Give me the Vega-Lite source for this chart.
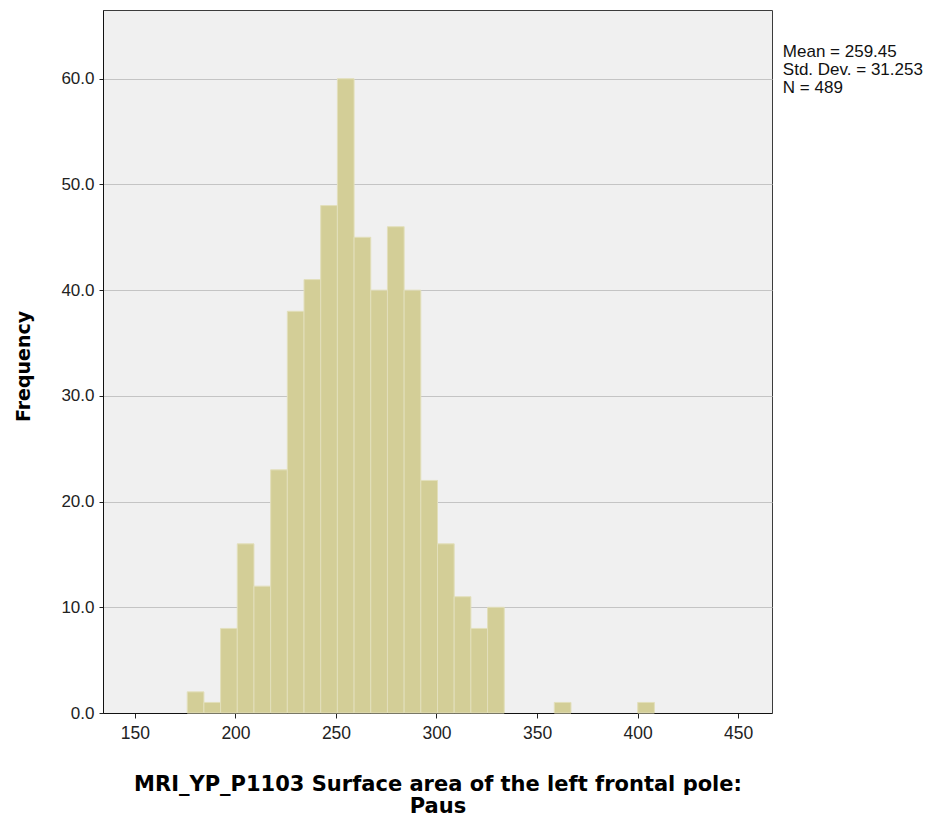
{
  "$schema": "https://vega.github.io/schema/vega-lite/v6.json",
  "width": 669,
  "height": 703,
  "autosize": "none",
  "padding": {"left": 103, "top": 10, "right": 166, "bottom": 108},
  "background": "white",
  "config": {
    "view": {"fill": "#f0f0f0", "stroke": "#3c3c3c", "strokeWidth": 1},
    "font": "Liberation Sans"
  },
  "datasets": {
    "bins": [
      {"bin_start": 176.0, "bin_end": 184.3, "count": 2},
      {"bin_start": 184.3, "bin_end": 192.6, "count": 1},
      {"bin_start": 192.6, "bin_end": 200.9, "count": 8},
      {"bin_start": 200.9, "bin_end": 209.2, "count": 16},
      {"bin_start": 209.2, "bin_end": 217.5, "count": 12},
      {"bin_start": 217.5, "bin_end": 225.8, "count": 23},
      {"bin_start": 225.8, "bin_end": 234.1, "count": 38},
      {"bin_start": 234.1, "bin_end": 242.4, "count": 41},
      {"bin_start": 242.4, "bin_end": 250.7, "count": 48},
      {"bin_start": 250.7, "bin_end": 259.0, "count": 60},
      {"bin_start": 259.0, "bin_end": 267.3, "count": 45},
      {"bin_start": 267.3, "bin_end": 275.6, "count": 40},
      {"bin_start": 275.6, "bin_end": 283.9, "count": 46},
      {"bin_start": 283.9, "bin_end": 292.2, "count": 40},
      {"bin_start": 292.2, "bin_end": 300.5, "count": 22},
      {"bin_start": 300.5, "bin_end": 308.8, "count": 16},
      {"bin_start": 308.8, "bin_end": 317.1, "count": 11},
      {"bin_start": 317.1, "bin_end": 325.4, "count": 8},
      {"bin_start": 325.4, "bin_end": 333.7, "count": 10},
      {"bin_start": 358.6, "bin_end": 366.9, "count": 1},
      {"bin_start": 400.1, "bin_end": 408.4, "count": 1}
    ],
    "stats": [
      {"label": ["Mean = 259.45", "Std. Dev. = 31.253", "N = 489"]}
    ]
  },
  "layer": [
    {
      "data": {"name": "bins"},
      "mark": {"type": "rect", "fill": "#d3ce97", "stroke": "#e2dfbb", "strokeWidth": 1},
      "encoding": {
        "x": {
          "field": "bin_start", "type": "quantitative",
          "scale": {"domain": [134.1, 466.9], "nice": false, "zero": false},
          "axis": {
            "values": [150, 200, 250, 300, 350, 400, 450],
            "format": "d",
            "title": ["MRI_YP_P1103 Surface area of the left frontal pole:", "Paus"],
            "titleFont": "DejaVu Sans",
            "titleFontSize": 21,
            "titleFontWeight": "bold",
            "titleColor": "black",
            "titlePadding": 32,
            "titleLineHeight": 22,
            "labelFontSize": 17.5,
            "labelColor": "#222",
            "labelPadding": 6,
            "tickSize": 5,
            "tickColor": "#222",
            "domainColor": "#111",
            "grid": false
          }
        },
        "x2": {"field": "bin_end"},
        "y": {
          "field": "count", "type": "quantitative",
          "scale": {"domain": [0, 66.5], "nice": false},
          "axis": {
            "values": [0, 10, 20, 30, 40, 50, 60],
            "format": ".1f",
            "title": "Frequency",
            "titleFont": "DejaVu Sans",
            "titleFontSize": 19,
            "titleFontWeight": "bold",
            "titleColor": "black",
            "titlePadding": 27,
            "titleY": 356,
            "labelFontSize": 17,
            "labelColor": "#222",
            "labelPadding": 5,
            "tickSize": 4,
            "tickColor": "#222",
            "domainColor": "#111",
            "grid": true,
            "gridColor": "#c4c4c4",
            "gridWidth": 1.2
          }
        },
        "y2": {"datum": 0}
      }
    },
    {
      "data": {"name": "stats"},
      "mark": {"type": "text", "align": "left", "baseline": "top", "fontSize": 17, "lineHeight": 18, "color": "#111", "clip": false},
      "encoding": {
        "x": {"datum": 472.3},
        "y": {"datum": 63.3},
        "text": {"field": "label"}
      }
    }
  ]
}
